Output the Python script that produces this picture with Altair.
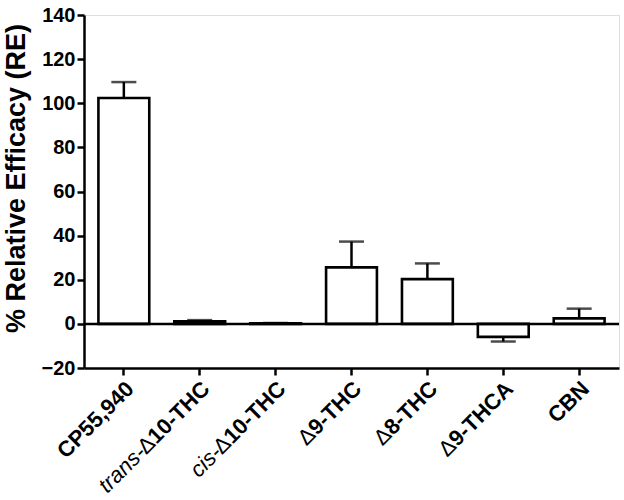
import altair as alt
import pandas as pd

categories = ["CP55,940", "trans-Δ10-THC", "cis-Δ10-THC", "Δ9-THC", "Δ8-THC", "Δ9-THCA", "CBN"]
means = [102.4, 1.2, 0.3, 25.6, 20.3, -5.9, 2.5]
errors = [7.2, 0.5, 0.1, 11.7, 7.1, 2.1, 4.4]
label_prefix = ["", "trans-", "cis-", "", "", "", ""]
label_delta = ["", "Δ", "Δ", "Δ", "Δ", "Δ", ""]
label_main = ["CP55,940", "10-THC", "10-THC", "9-THC", "8-THC", "9-THCA", "CBN"]
y_ticks = [-20, 0, 20, 40, 60, 80, 100, 120, 140]

FONT = "Liberation Sans"
FS = 20
LFS = 22

df = pd.DataFrame({
    "cat": categories,
    "mean": means,
    "err": errors,
})
df["end"] = [m + (e if m >= 0 else -e) for m, e in zip(means, errors)]

xenc = alt.X("cat:N", sort=categories,
             scale=alt.Scale(paddingInner=0.33, paddingOuter=0.19),
             axis=alt.Axis(labels=False, title=None, domainColor="black", domainWidth=2.5,
                           tickColor="black", tickWidth=2.5, tickSize=7))
yscale = alt.Scale(domain=[-20, 140], nice=False, zero=False)

base = alt.Chart(df)

bars = base.mark_bar(fill="white", stroke="black", strokeWidth=2.6).encode(
    x=xenc,
    y=alt.Y("mean:Q", scale=yscale,
            axis=alt.Axis(values=y_ticks, title="% Relative Efficacy (RE)", grid=False,
                          domainColor="black", domainWidth=2.5, tickColor="black",
                          tickWidth=2.5, tickSize=7, labelFont=FONT, labelFontSize=FS,
                          labelFontWeight="bold", labelColor="black", labelPadding=2,
                          titleFont=FONT, titleFontSize=27, titleFontWeight="bold",
                          titleColor="black", titleAngle=270, titleX=-68, titleY=163,
                          titleAlign="center", titleBaseline="middle")),
)

zero = alt.Chart(pd.DataFrame({"z": [0]})).mark_rule(color="black", strokeWidth=2.5).encode(
    y=alt.Y("z:Q", scale=yscale)
)

err_rules = base.mark_rule(color="black", strokeWidth=2.5).encode(
    x=alt.X("cat:N", sort=categories), y=alt.Y("mean:Q", scale=yscale), y2="end:Q"
)
caps = base.mark_tick(color="black", thickness=2.5, size=25, orient="horizontal").encode(
    x=alt.X("cat:N", sort=categories), y=alt.Y("end:Q", scale=yscale)
)

# approximate glyph widths (per 1000 em) for Arial-metric fonts
BOLD = {c: 556 for c in "0123456789"}
BOLD.update({"-": 333, ",": 278, "T": 611, "H": 722, "C": 722, "A": 722, "B": 722, "N": 722, "P": 667})
REG = {"t": 278, "r": 333, "a": 556, "n": 556, "s": 500, "-": 333, "c": 500, "i": 222, "Δ": 612}


def width(s, table):
    return sum(table.get(ch, 556) for ch in s) * LFS / 1000.0


label_layers = []
for cat, pre, dl, main in zip(categories, label_prefix, label_delta, label_main):
    ldf = pd.DataFrame({"cat": [cat]})
    off = 0.0
    segs = [(main, "bold", "normal", BOLD), (dl, "normal", "normal", REG), (pre, "normal", "italic", REG)]
    for txt, weight, style, table in segs:
        if not txt:
            continue
        layer = alt.Chart(ldf).mark_text(
            text=txt, angle=315, align="right", baseline="middle", font=FONT,
            fontSize=LFS, fontWeight=weight, fontStyle=style, color="black", dx=-off, dy=9,
        ).encode(x=alt.X("cat:N", sort=categories), y=alt.value(364))
        label_layers.append(layer)
        off += width(txt, table)

chart = alt.layer(bars, zero, err_rules, caps, *label_layers).properties(
    width=535, height=353,
    autosize=alt.AutoSizeParams(type="none"),
    padding={"left": 84, "top": 15, "right": 5, "bottom": 132},
).configure_view(stroke=None).configure(background="white")

chart.save("out.html", embed_options={"renderer": "svg", "actions": False})
